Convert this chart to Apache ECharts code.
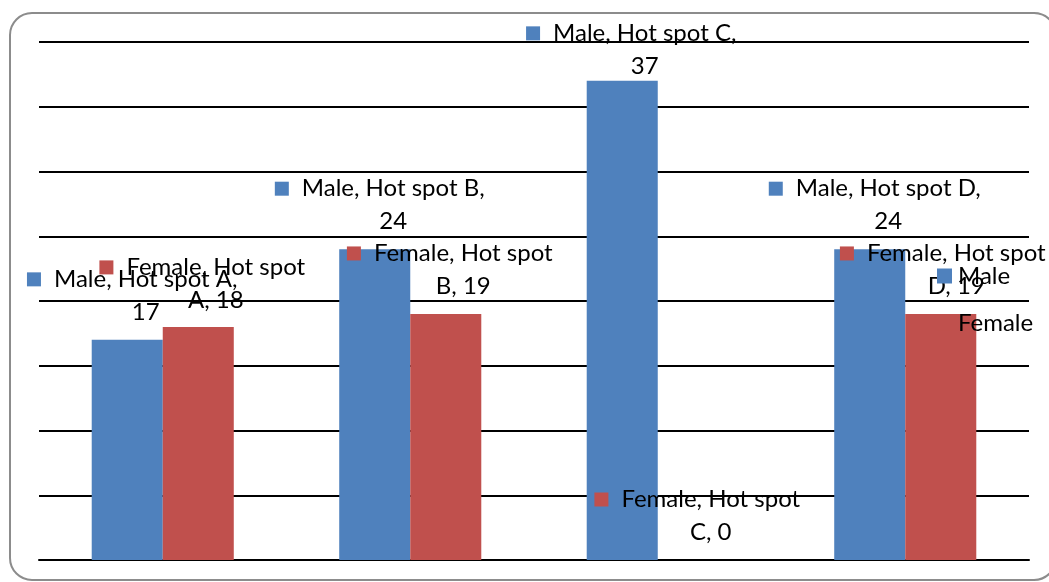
<!DOCTYPE html>
<html>
<head>
<meta charset="utf-8">
<script src="https://cdn.jsdelivr.net/npm/echarts@6/dist/echarts.min.js"></script>
<style>
html,body{margin:0;padding:0;background:#fff;}
#chart{width:1049px;height:582px;}
</style>
</head>
<body>
<div id="chart"></div>
<script>
const categories = ["Hot spot A", "Hot spot B", "Hot spot C", "Hot spot D"];
const maleValues = [17, 24, 37, 24];
const femaleValues = [18, 19, 0, 19];
const seriesNames = ["Male", "Female"];
const yMin = 0, yMax = 40, yInterval = 5;

const FONT = 'Lato';
const FS = 24;
const LH = 33;
const BLUE = '#4F81BD';
const RED = '#C0504D';

function richFor(color) {
  return {
    m: { width: 14, height: 14, backgroundColor: color, lineHeight: LH },
    g: { width: 13, lineHeight: LH },
    sp: { width: 27, lineHeight: LH },
    t: { fontSize: FS, fontFamily: FONT, color: '#000', lineHeight: LH }
  };
}

function maleFmt(p) {
  return '{m|}{g|}{t|' + p.seriesName + ', ' + p.name + ',}\n{sp|}{t|' + p.value + '}';
}
function femaleFmt(p) {
  const letter = p.name.replace('Hot spot ', '');
  return '{m|}{g|}{t|' + p.seriesName + ', Hot spot}\n{sp|}{t|' + letter + ', ' + p.value + '}';
}

function makeData(values, offsets) {
  return values.map((v, i) => ({ value: v, label: { offset: offsets[i] } }));
}

const chart = echarts.init(document.getElementById('chart'));
chart.setOption({
  backgroundColor: '#fff',
  animation: false,
  graphic: [{
    type: 'rect',
    shape: { x: 10, y: 13, width: 1046, height: 567, r: 22 },
    style: { fill: 'none', stroke: '#8c8c8c', lineWidth: 2 },
    z: 100
  }],
  legend: {
    orient: 'vertical',
    left: 932,
    top: 259,
    icon: 'rect',
    itemWidth: 15,
    itemHeight: 15,
    itemGap: 23,
    textStyle: { fontFamily: FONT, fontSize: FS, color: '#000', lineHeight: 24, padding: [0, 0, 0, 1] },
    data: seriesNames
  },
  grid: { left: 39, right: 20, top: 42, bottom: 22, containLabel: false },
  xAxis: {
    type: 'category',
    data: categories,
    axisLine: { show: true, lineStyle: { color: '#000', width: 2 } },
    axisTick: { show: false },
    axisLabel: { show: false }
  },
  yAxis: {
    type: 'value',
    min: yMin, max: yMax, interval: yInterval,
    axisLine: { show: false },
    axisTick: { show: false },
    axisLabel: { show: false },
    splitLine: { lineStyle: { color: '#000', width: 2 } }
  },
  series: [
    {
      name: seriesNames[0],
      type: 'bar',
      barWidth: '28.7%',
      barGap: '0%',
      itemStyle: { color: BLUE },
      data: makeData(maleValues, [[5, -11], [5, -11], [9, 2], [5, -11]]),
      label: {
        show: true,
        position: 'top',
        distance: 0,
        align: 'center',
        formatter: maleFmt,
        rich: richFor(BLUE)
      }
    },
    {
      name: seriesNames[1],
      type: 'bar',
      barWidth: '28.7%',
      barGap: '0%',
      itemStyle: { color: RED },
      data: makeData(femaleValues, [[4, -10], [4, -11], [4, -11], [2, -11]]),
      label: {
        show: true,
        position: 'top',
        distance: 0,
        align: 'center',
        formatter: femaleFmt,
        rich: richFor(RED)
      }
    }
  ]
});
</script>
</body>
</html>
